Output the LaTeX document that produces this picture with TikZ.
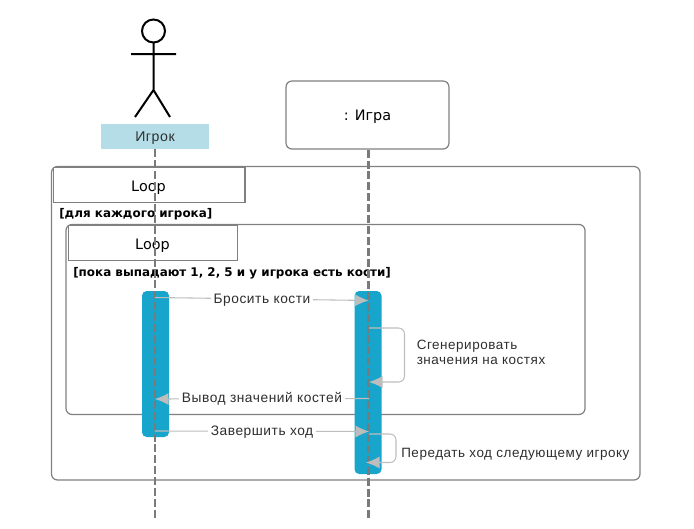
\documentclass[tikz,border=0pt]{standalone}
\usepackage{fontspec}
\setmainfont{DejaVu Sans}
\newfontfamily\lblfont{Liberation Sans}[LetterSpace=4]
\newfontfamily\titlefont{DejaVu Sans}
\usetikzlibrary{arrows.meta}
\definecolor{barblue}{HTML}{18A5CC}
\definecolor{actorbg}{HTML}{B5DDE8}
\definecolor{framegray}{HTML}{808080}
\definecolor{msggray}{HTML}{BDBDBD}
\definecolor{lifegray}{HTML}{7A7A7A}
\definecolor{txt}{HTML}{2E2E2E}
\tikzset{
  x=0.75pt,y=-0.75pt,
  frame/.style={draw=framegray,line width=0.9pt,rounded corners=4.5pt},
  tabbox/.style={draw=framegray,line width=0.9pt,fill=white},
  bar/.style={fill=barblue,rounded corners=3.5pt},
  lifeline/.style={draw=lifegray,line width=1.6pt,dash pattern=on 6pt off 2.2pt},
  msg/.style={draw=msggray,line width=0.8pt,rounded corners=4.5pt,-{Latex[length=13.5pt*0.75,width=12pt*0.75]}},
  msglabel/.style={font=\lblfont\fontsize{10.3pt}{12pt}\selectfont,text=txt,inner sep=0pt,fill=white,inner xsep=2pt},
  sidelabel/.style={font=\lblfont\fontsize{10.1pt}{11.25pt}\selectfont,text=txt,inner sep=0pt,align=left},
  guard/.style={font=\fontsize{8.95pt}{10pt}\selectfont\bfseries,text=black,inner sep=0pt,anchor=west},
  looplabel/.style={font=\titlefont\fontsize{10.8pt}{12pt}\selectfont,text=black,inner sep=0pt},
  stick/.style={draw=black,line width=1.5pt},
}
\begin{document}
\begin{tikzpicture}
\useasboundingbox (0,0) rectangle (694,529);
% frames
\draw[frame] (51.5,166.5) rectangle (640,480);
\node[tabbox,inner sep=0pt,anchor=north west,minimum width=143.6pt,minimum height=25.9pt] (tabA) at (53,167) {};
\node[looplabel] (loopA) at (148.5,188) {Loop};
\node[guard] (guardA) at (59,214) {[для каждого игрока]};
\draw[frame] (66,224.5) rectangle (585,414.5);
\node[tabbox,inner sep=0pt,anchor=north west,minimum width=126.6pt,minimum height=25.9pt] (tabB) at (68,225) {};
\node[looplabel] (loopB) at (152.5,246) {Loop};
\node[guard] (guardB) at (73,273) {[пока выпадают 1, 2, 5 и у игрока есть кости]};
% bars
\fill[bar] (142,291) rectangle (169,437);
\fill[bar] (354.5,291) rectangle (381.5,474);
% actor
\draw[stick] (153.5,31) circle (11.5);
\draw[stick] (153.5,42.5) -- (153.5,90) (131,54) -- (176,54) (135,117) -- (153.5,90) -- (170,117);
\node[fill=actorbg,inner sep=0pt,minimum width=81pt,minimum height=18.75pt,text=txt,font=\lblfont\fontsize{10.6pt}{12pt}\selectfont] (actor) at (155,136.5) {\raisebox{-3.4pt}[0pt][0pt]{Игрок}};
% game
\node[draw=framegray,line width=0.9pt,fill=white,rounded corners=4.5pt,inner sep=0pt,minimum width=122.2pt,minimum height=51pt,font=\fontsize{10.8pt}{12pt}\selectfont,text=black] (game) at (367.5,115) {\raisebox{-4.4pt}[0pt][0pt]{: Игра}};
% lifelines
\coordinate (endA) at (155,518);
\coordinate (endB) at (368.5,518);
\draw[lifeline] (actor.south) -- (endA);
\draw[lifeline] (game.south -| endB) -- (endB);
% messages
\coordinate (a1) at (155,297.5); \coordinate (b1) at (368.5,300.5);
\coordinate (b2) at (369,328);   \coordinate (b2e) at (369,382);
\coordinate (b3) at (369,398.5); \coordinate (a3) at (155,399);
\coordinate (a4) at (155,431);   \coordinate (b4) at (369,431.5);
\coordinate (b5) at (369,434);   \coordinate (b5e) at (366,462.5);
\draw[msg] (a1) -- (b1);
\node[msglabel] (m1) at (262,300) {Бросить кости};
\draw[msg] (b2) -- (404.5,328) -- (404.5,382) -- (b2e);
\draw[msg] (b3) -- (a3);
\node[msglabel] (m3) at (262,398.5) {Вывод значений костей};
\draw[msg] (a4) -- (b4);
\node[msglabel] (m4) at (262,432) {Завершить ход};
\draw[msg] (b5) -- (396,434) -- (396,462.5) -- (b5e);
\node[sidelabel,anchor=west] (m2) at (416.5,352) {Сгенерировать\\значения на костях};
\node[sidelabel,anchor=west] (m5) at (401,454.5) {Передать ход следующему игроку};
\end{tikzpicture}
\end{document}
